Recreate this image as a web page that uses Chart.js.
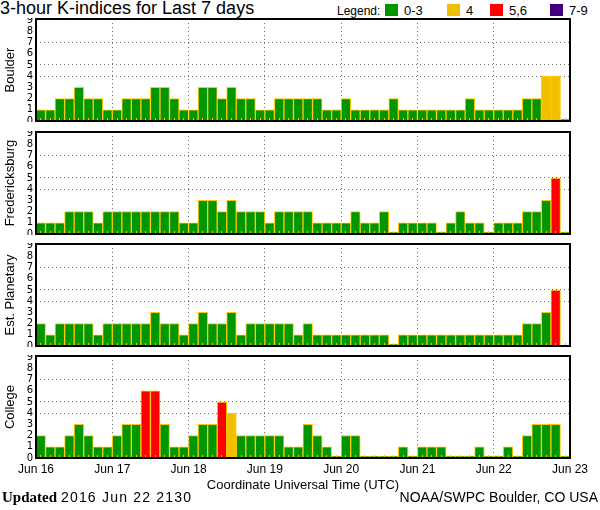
<!DOCTYPE html>
<html>
<head>
<meta charset="utf-8">
<script src="https://cdn.jsdelivr.net/npm/chart.js@4.4.0/dist/chart.umd.min.js"></script>
<style>
  body { margin: 0; width: 600px; height: 510px; background: #fff; position: relative; overflow: hidden; font-family: "Liberation Sans", sans-serif; color: #000; }
  .panel { position: absolute; left: 0; width: 600px; }
  #title { position: absolute; left: 0; top: -2px; font-size: 18px; white-space: nowrap; }
  .lg { position: absolute; top: 3px; font-size: 13px; white-space: nowrap; }
  .box { position: absolute; top: 4px; width: 13px; height: 12px; }
  #updated { position: absolute; left: 2px; top: 489px; font-size: 14px; white-space: nowrap; }
  #updated b { font-family: "Liberation Serif", serif; font-size: 15px; }
  #updated span { letter-spacing: 1.2px; }
  #credit { position: absolute; right: 2px; top: 489px; font-size: 14px; white-space: nowrap; }
</style>
</head>
<body>
<div id="title">3-hour K-indices for Last 7 days</div>
<div id="legend"></div>
<canvas id="p0" class="panel" width="600" height="104" style="top:18px"></canvas>
<canvas id="p1" class="panel" width="600" height="104" style="top:131px"></canvas>
<canvas id="p2" class="panel" width="600" height="104" style="top:243px"></canvas>
<canvas id="p3" class="panel" width="600" height="141" style="top:355px"></canvas>
<div id="updated"><b>Updated</b> <span>2016 Jun 22 2130</span></div>
<div id="credit">NOAA/SWPC Boulder, CO USA</div>
<script>
// day labels on the time axis, 8 three-hour slots per day
const days = ['Jun 16', 'Jun 17', 'Jun 18', 'Jun 19', 'Jun 20', 'Jun 21', 'Jun 22', 'Jun 23'];
const hours = ['00', '03', '06', '09', '12', '15', '18', '21'];
const kTicks = [0, 1, 2, 3, 4, 5, 6, 7, 8, 9];
const kGrid = [4, 5, 7];

const stations = ['Boulder', 'Fredericksburg', 'Est. Planetary', 'College'];

const boulder = [1,1,2,2,3,2,2,1, 1,2,2,2,3,3,2,1, 1,3,3,2,3,2,2,1, 1,2,2,2,2,2,1,1,
                 2,1,1,1,1,2,1,1, 1,1,1,1,1,2,1,1, 1,1,1,2,2,4,4,0];
const fredericksburg = [1,1,1,2,2,2,1,2, 2,2,2,2,2,2,2,1, 1,3,3,2,3,2,2,2, 1,2,2,2,2,1,1,1,
                        1,2,1,1,2,0,1,1, 1,1,0,1,2,1,1,0, 1,1,1,2,2,3,5,0];
const planetary = [2,1,2,2,2,2,1,2, 2,2,2,2,3,2,2,1, 2,3,2,2,3,1,2,2, 2,2,2,1,2,1,1,1,
                   1,1,1,1,1,0,1,1, 1,1,1,1,1,1,1,1, 1,1,1,2,2,3,5,null];
const college = [2,1,1,2,3,2,1,1, 2,3,3,6,6,3,1,1, 2,3,3,5,4,2,2,2, 2,2,1,1,3,2,1,0,
                 2,2,0,0,0,0,1,0, 1,1,1,0,0,0,1,0, 0,1,0,2,3,3,3,0];

const legendLabels = ['0-3', '4', '5,6', '7-9'];
const legendColors = ['#009600', '#f0c000', '#ff0000', '#400080'];

function kColor(v) {
  if (v >= 7) return legendColors[3];
  if (v >= 5) return legendColors[2];
  if (v === 4) return legendColors[1];
  return legendColors[0];
}

// legend row in the header
const lg = document.getElementById('legend');
const boxX = [385, 447, 490, 550];
lg.innerHTML = '<span class="lg" style="left:337px;font-size:12px;top:4px">Legend:</span>';
legendLabels.forEach((t, i) => {
  lg.innerHTML += '<span class="box" style="left:' + boxX[i] + 'px;background:' + legendColors[i] + '"></span>' +
    '<span class="lg" style="left:' + (boxX[i] + 19) + 'px">' + t + '</span>';
});

const slots = [];
days.slice(0, 7).forEach(d => hours.forEach(h => slots.push(d + ' ' + h)));

const frame = {
  id: 'frame',
  afterDraw(chart) {
    const { ctx, chartArea: a } = chart;
    ctx.save();
    ctx.strokeStyle = '#000';
    ctx.lineWidth = 2;
    ctx.strokeRect(a.left, a.top, a.width, a.height);
    ctx.restore();
  }
};

function makePanel(id, name, values, last) {
  new Chart(document.getElementById(id), {
    type: 'bar',
    data: {
      labels: slots,
      datasets: [{
        data: values,
        backgroundColor: ctx => kColor(ctx.raw),
        borderColor: '#ffc800',
        borderWidth: 1,
        borderSkipped: 'bottom',
        barPercentage: 1,
        categoryPercentage: 1,
        minBarLength: 2
      }]
    },
    options: {
      animation: false,
      responsive: false,
      layout: { padding: { left: 3, right: 30, top: 1, bottom: last ? 0 : 1 } },
      plugins: { legend: { display: false }, tooltip: { enabled: false } },
      scales: {
        x: {
          type: 'category',
          ticks: { display: false },
          grid: { offset: false, drawOnChartArea: false, tickLength: -3, tickColor: '#ffc800', z: 1 },
          border: { display: false },
          afterFit: s => { s.height = 0; s.paddingLeft = 0; s.paddingRight = 0; }
        },
        xd: {
          type: 'linear',
          position: 'bottom',
          offset: false,
          min: 0,
          max: 56,
          afterBuildTicks: s => { s.ticks = days.map((d, i) => ({ value: i * 8 })); },
          ticks: {
            display: last,
            autoSkip: false,
            maxRotation: 0,
            padding: 4,
            color: '#000',
            font: { family: 'Liberation Sans', size: 12 },
            callback: v => days[v / 8]
          },
          grid: {
            offset: false,
            drawTicks: false,
            color: ctx => (ctx.tick && ctx.tick.value > 0 && ctx.tick.value < 56) ? '#6e6e6e' : 'rgba(0,0,0,0)'
          },
          border: { display: false, dash: [1, 3] },
          title: {
            display: last,
            text: 'Coordinate Universal Time (UTC)',
            color: '#000',
            font: { family: 'Liberation Sans', size: 13 },
            padding: { top: 0, bottom: 3 }
          },
          afterFit: s => { s.height = last ? 38 : 0; s.paddingLeft = 0; s.paddingRight = 0; }
        },
        y: {
          min: 0,
          max: 9.1,
          afterBuildTicks: s => { s.ticks = kTicks.map(v => ({ value: v })); },
          ticks: {
            autoSkip: false,
            padding: 3,
            color: '#000',
            font: { family: 'DejaVu Sans', size: 10 }
          },
          grid: {
            drawTicks: false,
            color: ctx => (ctx.tick && kGrid.includes(ctx.tick.value)) ? '#6e6e6e' : 'rgba(0,0,0,0)'
          },
          border: { display: false, dash: [1, 3] },
          title: {
            display: true,
            text: name,
            color: '#000',
            font: { family: 'Liberation Sans', size: 13 },
            padding: 0
          },
          afterFit: s => { s.width = 33; s.paddingTop = 0; s.paddingBottom = 0; }
        }
      }
    },
    plugins: [frame]
  });
}

makePanel('p0', stations[0], boulder, false);
makePanel('p1', stations[1], fredericksburg, false);
makePanel('p2', stations[2], planetary, false);
makePanel('p3', stations[3], college, true);
</script>
</body>
</html>
